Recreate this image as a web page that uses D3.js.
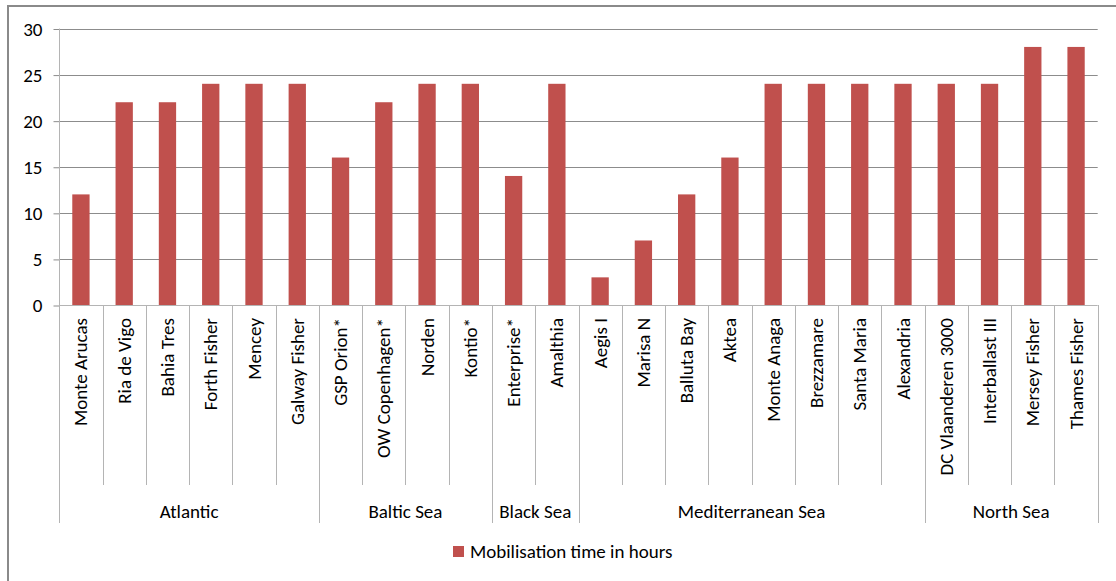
<!DOCTYPE html>
<html>
<head>
<meta charset="utf-8">
<script src="https://cdn.jsdelivr.net/npm/d3@7"></script>
<style>
  html, body { margin: 0; padding: 0; background: #fff; }
  svg { display: block; }
  text { font-family: Carlito, Calibri, Lato, "Liberation Sans", sans-serif; fill: #000; }
</style>
</head>
<body>
<svg id="chart" width="1116" height="581"></svg>
<script>
// Vessels, the sea each one operates in, and its mobilisation time (hours)
const vessels = [
  "Monte Arucas", "Ria de Vigo", "Bahia Tres", "Forth Fisher", "Mencey", "Galway Fisher",
  "GSP Orion*", "OW Copenhagen*", "Norden", "Kontio*",
  "Enterprise*", "Amalthia",
  "Aegis I", "Marisa N", "Balluta Bay", "Aktea", "Monte Anaga", "Brezzamare", "Santa Maria", "Alexandria",
  "DC Vlaanderen 3000", "Interballast III", "Mersey Fisher", "Thames Fisher"
];
const seas = ["Atlantic", "Baltic Sea", "Black Sea", "Mediterranean Sea", "North Sea"];
const seaCounts = [6, 4, 2, 8, 4];
const hours = [12, 22, 22, 24, 24, 24, 16, 22, 24, 24, 14, 24, 3, 7, 12, 16, 24, 24, 24, 24, 24, 24, 28, 28];
const yTicks = [0, 5, 10, 15, 20, 25, 30];
const seriesName = "Mobilisation time in hours";

const svg = d3.select("#chart");
const plot = { left: 59.3, right: 1097.7, top: 28.5, bottom: 305 };
const barColor = "#C0504D";
const gridColor = "#8c8c8c";
const sepColor = "#b4b4b4";
const fontSize = 19;

// outer frame (only its top and left edges fall inside the canvas)
svg.append("rect")
  .attr("x", 8).attr("y", 6).attr("width", 1300).attr("height", 800)
  .attr("fill", "none").attr("stroke", "#8a8a8a").attr("stroke-width", 2);

const x = d3.scaleBand().domain(vessels).range([plot.left, plot.right]).paddingInner(0.6).paddingOuter(0.3);
const xBand = d3.scaleBand().domain(vessels).range([plot.left, plot.right]);
const y = d3.scaleLinear().domain([0, 30]).range([plot.bottom, plot.top]);

// horizontal gridlines
svg.append("g").selectAll("line").data(yTicks.filter(t => t > 0)).join("line")
  .attr("x1", plot.left).attr("x2", plot.right)
  .attr("y1", d => Math.round(y(d)) + 0.5).attr("y2", d => Math.round(y(d)) + 0.5)
  .attr("stroke", gridColor).attr("stroke-width", 1);

// y axis with left ticks
const yAxis = d3.axisLeft(y).tickValues(yTicks).tickSize(6).tickPadding(11);
const yg = svg.append("g").attr("transform", `translate(${Math.round(plot.left) + 0.5},0.5)`).call(yAxis);
yg.select(".domain").remove();
yg.selectAll(".tick line").attr("stroke", gridColor);
yg.attr("font-family", null).attr("font-size", null);
yg.selectAll(".tick text").attr("font-size", fontSize);
svg.append("line")
  .attr("x1", Math.round(plot.left) + 0.5).attr("x2", Math.round(plot.left) + 0.5)
  .attr("y1", plot.top).attr("y2", plot.bottom)
  .attr("stroke", sepColor);

// bars
svg.append("g").selectAll("rect").data(vessels).join("rect")
  .attr("x", d => x(d)).attr("width", x.bandwidth())
  .attr("y", (d, i) => y(hours[i])).attr("height", (d, i) => y(0) - y(hours[i]))
  .attr("fill", barColor);

// category axis line
svg.append("line")
  .attr("x1", plot.left).attr("x2", plot.right)
  .attr("y1", Math.round(plot.bottom) + 0.5).attr("y2", Math.round(plot.bottom) + 0.5)
  .attr("stroke", sepColor);

// separators between vessels and between seas
const groupEnds = d3.cumsum(seaCounts);
const groupStarts = [0, ...groupEnds.slice(0, -1)];
const isGroupEdge = i => i === 0 || i === vessels.length || groupEnds.includes(i);
const edges = d3.range(vessels.length + 1);
svg.append("g").selectAll("line").data(edges).join("line")
  .attr("x1", i => Math.round(plot.left + i * xBand.step()) + 0.5)
  .attr("x2", i => Math.round(plot.left + i * xBand.step()) + 0.5)
  .attr("y1", plot.bottom)
  .attr("y2", i => isGroupEdge(i) ? 523 : 485)
  .attr("stroke", sepColor);

// rotated vessel names
svg.append("g").selectAll("text").data(vessels).join("text")
  .attr("transform", d => `translate(${xBand(d) + xBand.bandwidth() / 2},318) rotate(-90)`)
  .attr("text-anchor", "end").attr("dominant-baseline", "central")
  .attr("font-size", fontSize)
  .text(d => d);

// sea names
svg.append("g").selectAll("text").data(seas).join("text")
  .attr("x", (d, i) => plot.left + (groupStarts[i] + seaCounts[i] / 2) * xBand.step())
  .attr("y", 511).attr("dominant-baseline", "central").attr("text-anchor", "middle")
  .attr("font-size", fontSize)
  .text(d => d);

// legend
const legend = svg.append("g").attr("transform", "translate(453,546)");
legend.append("rect").attr("width", 11).attr("height", 11).attr("fill", barColor);
legend.append("text").attr("x", 17).attr("y", 5.5).attr("dominant-baseline", "central")
  .attr("font-size", fontSize).text(seriesName);
</script>
</body>
</html>
